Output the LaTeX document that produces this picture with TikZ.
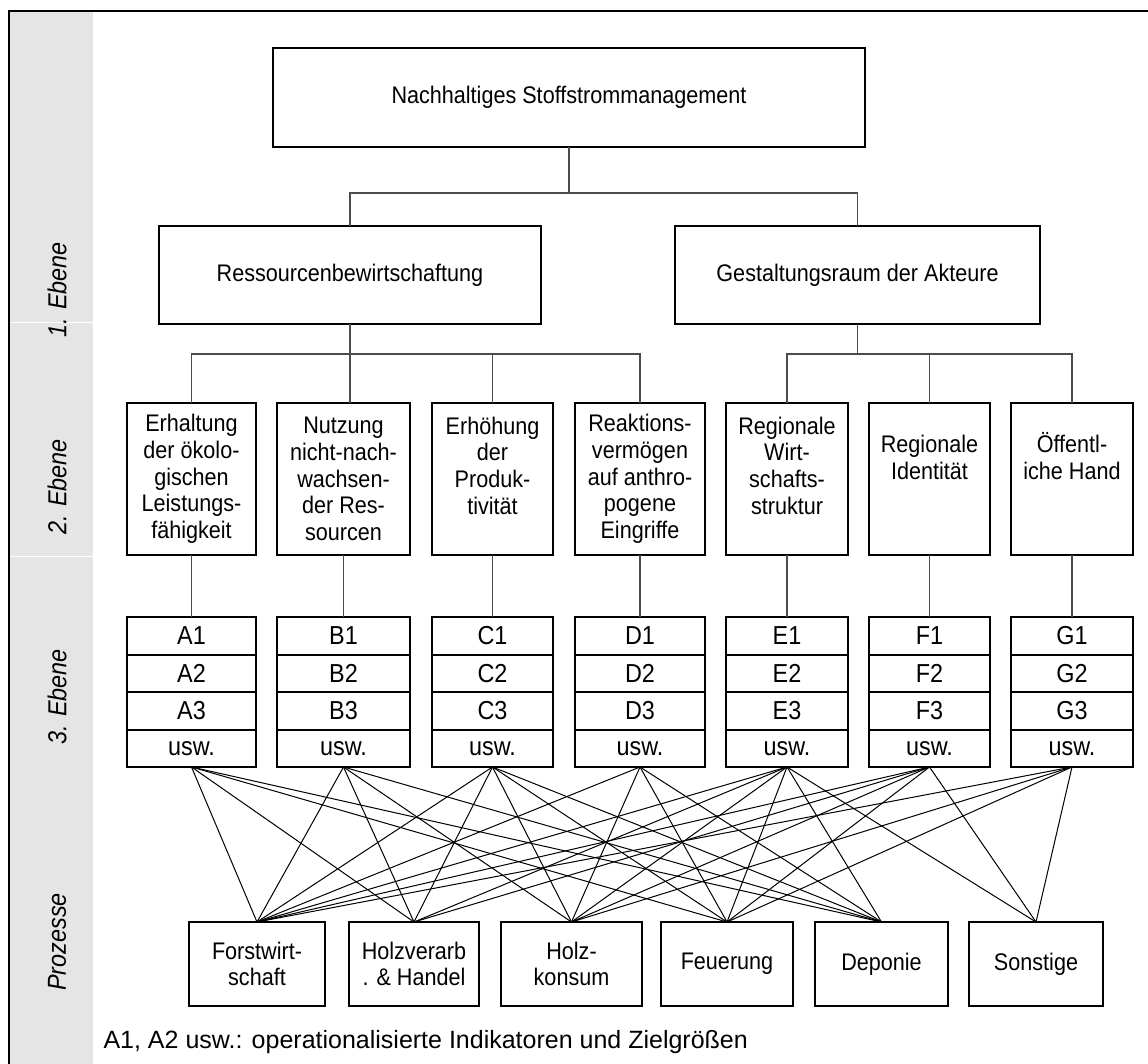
\documentclass[tikz,border=0pt]{standalone}
\usepackage{fontspec}
\setmainfont{Liberation Sans}[FakeStretch=0.9]
\usetikzlibrary{positioning}

\tikzset{
  box/.style={draw, line width=2pt, align=center, inner sep=0pt, outer sep=0pt},
  cell/.style={draw, line width=2pt, inner sep=0pt, outer sep=0pt, minimum height=37.5,
               font=\fontsize{26}{28}\selectfont},
  tree/.style={line width=1.1pt, draw=black!70},
  fan/.style={line width=1pt},
  ebene/.style={rotate=90, font=\fontsize{26}{28}\selectfont\itshape},
}

\begin{document}
\begin{tikzpicture}[x=1pt, y=-1pt, font=\fontsize{24}{26.7}\selectfont]
    \useasboundingbox (0,0) rectangle (1148,1064);

    % side band
    \fill[black!10] (9,11) rectangle (93,1064);
    \draw[white, line width=1pt] (10,323) -- (93,323) (10,556) -- (93,556);
    \draw[line width=2pt] (1148,11) -- (9,11) -- (9,1064);

    \node[ebene] (e1) at (57,290) {1. Ebene};
    \node[ebene] (e2) at (57,487) {2. Ebene};
    \node[ebene] (e3) at (57,697) {3. Ebene};
    \node[ebene] (e4) at (57,942) {Prozesse};

    % top and first level
    \node[box, minimum width=592, minimum height=99] (top) at (569,97.5) {Nachhaltiges Stoffstrommanagement};
    \node[box, minimum width=382, minimum height=98] (res) at (350,275) {Ressourcenbewirtschaftung};
    \node[box, minimum width=365, minimum height=98] (ges) at (857.5,275) {Gestaltungsraum der Akteure};

    \coordinate (b1) at (569,193);
    \draw[tree] (top.south) -- (b1);
    \draw[tree] (res.north) -- (res.north |- b1) -- (ges.north |- b1) -- (ges.north);

    % second level
    \node[box, minimum width=129, minimum height=152] (n1) at (191.5,479) {Erhaltung\\der ökolo-\\gischen\\Leistungs-\\fähigkeit};
    \node[box, minimum width=133, minimum height=152] (n2) at (343.5,479) {Nutzung\\nicht-nach-\\wachsen-\\der Res-\\sourcen};
    \node[box, minimum width=121, minimum height=152] (n3) at (492.5,479) {Erhöhung\\der\\Produk-\\tivität\\\mbox{}};
    \node[box, minimum width=130, minimum height=152] (n4) at (640,479) {Reaktions-\\vermögen\\auf anthro-\\pogene\\Eingriffe};
    \node[box, minimum width=122, minimum height=152] (n5) at (787,479) {Regionale\\Wirt-\\schafts-\\struktur\\\mbox{}};
    \node[box, minimum width=121, minimum height=152] (n6) at (929.5,479) {\mbox{}\\Regionale\\Identität\\\mbox{}\\\mbox{}};
    \node[box, minimum width=122, minimum height=152] (n7) at (1072,479) {\mbox{}\\Öffentl-\\iche Hand\\\mbox{}\\\mbox{}};

    \coordinate (b2) at (350,354);
    \draw[tree] (res.south) -- (res.south |- n2.north);
    \draw[tree] (n1.north) -- (n1.north |- b2) -- (n4.north |- b2) -- (n4.north);
    \draw[tree] (n3.north) -- (n3.north |- b2);
    \draw[tree] (ges.south) -- (ges.south |- b2);
    \draw[tree] (n5.north) -- (n5.north |- b2) -- (n7.north |- b2) -- (n7.north);
    \draw[tree] (n6.north) -- (n6.north |- b2);

    % third level
    \foreach \c/\n/\x/\w in {A/1/191.5/129, B/2/343.5/133, C/3/492.5/121, D/4/640/130,
                             E/5/787/122, F/6/929.5/121, G/7/1072/122} {
        \node[cell, minimum width=\w] (\c1) at (\x,635.75) {\c1};
        \node[cell, minimum width=\w, below=0pt of \c1] (\c2) {\c2};
        \node[cell, minimum width=\w, below=0pt of \c2] (\c3) {\c3};
        \node[cell, minimum width=\w, below=0pt of \c3] (\c4) {usw.};
        \draw[tree] (n\n.south) -- (\c1.north);
    }

    % processes
    \node[box, minimum width=136, minimum height=84] (forst) at (257,964) {Forstwirt-\\schaft};
    \node[box, minimum width=130, minimum height=84] (holzv) at (414,964) {Holzverarb\\. \& Handel};
    \node[box, minimum width=141, minimum height=84] (holzk) at (571.5,964) {Holz-\\konsum};
    \node[box, minimum width=132, minimum height=84] (feuer) at (727,964) {Feuerung};
    \node[box, minimum width=133, minimum height=84] (depo) at (881.5,964) {Deponie};
    \node[box, minimum width=134, minimum height=84] (sonst) at (1036,964) {Sonstige};

    \foreach \s/\t in {A4/forst, A4/holzv, A4/feuer, A4/depo,
                       B4/forst, B4/holzv, B4/holzk, B4/depo,
                       C4/forst, C4/holzv, C4/holzk, C4/feuer, C4/depo,
                       D4/forst, D4/holzk, D4/feuer, D4/depo,
                       E4/forst, E4/holzv, E4/holzk, E4/feuer, E4/depo, E4/sonst,
                       F4/forst, F4/holzv, F4/holzk, F4/feuer, F4/sonst,
                       G4/forst, G4/holzk, G4/feuer, G4/sonst}
        \draw[fan] (\s.south) -- (\t.north);

    \node[anchor=west, font=\fontsize{25}{28}\selectfont\addfontfeature{FakeStretch=1.0}] (note) at (100,1042) {A1, A2 usw.: operationalisierte Indikatoren und Zielgrößen};
\end{tikzpicture}
\end{document}
